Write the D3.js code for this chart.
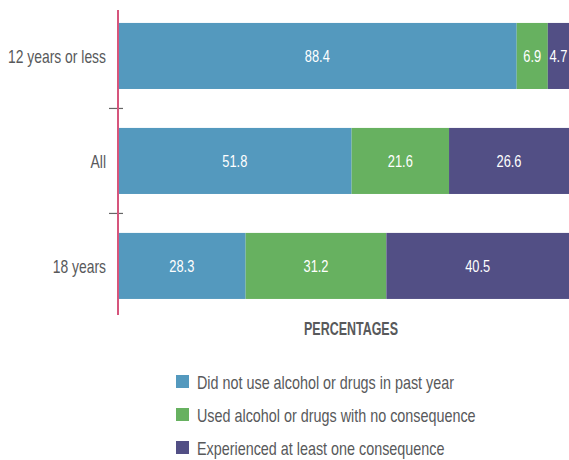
<!DOCTYPE html>
<html><head><meta charset="utf-8">
<script src="https://cdn.jsdelivr.net/npm/d3@7"></script>
<style>
html,body{margin:0;padding:0;background:#fff;}
text{font-family:"Liberation Sans",Arial,sans-serif;}
</style></head>
<body><svg id="c" width="569" height="460"></svg>
<script>
const categories = ["12 years or less", "All", "18 years"];
const seriesNames = ["Did not use alcohol or drugs in past year", "Used alcohol or drugs with no consequence", "Experienced at least one consequence"];
const notUsed = [88.4, 51.8, 28.3];
const usedNoConsequence = [6.9, 21.6, 31.2];
const consequence = [4.7, 26.6, 40.5];
const colors = ["#5499be", "#67b160", "#524f85"];
const axisTitle = "PERCENTAGES";

const svg = d3.select("#c");
const x = d3.scaleLinear().domain([0, 100]).range([118, 569]);
const y = d3.scaleBand().domain(categories).range([3, 318.9]).paddingInner(0.371).paddingOuter(0.19);

// condense a text selection horizontally so a reference string gets a target width
function condense(sel, refText, refWidth) {
  const probe = svg.append("text").attr("font-size", sel.attr("font-size")).attr("font-weight", sel.attr("font-weight") || "normal").text(refText);
  const k = refWidth / probe.node().getComputedTextLength();
  probe.remove();
  sel.each(function() {
    const w = this.getComputedTextLength();
    d3.select(this).attr("textLength", w * k).attr("lengthAdjust", "spacingAndGlyphs");
  });
}

const rows = categories.map((c, i) => ({cat: c, v0: notUsed[i], v1: usedNoConsequence[i], v2: consequence[i]}));
const layers = d3.stack().keys(["v0", "v1", "v2"])(rows);

layers.forEach((layer, li) => {
  const g = svg.append("g");
  g.selectAll("rect").data(layer).join("rect")
    .attr("x", d => x(d[0]))
    .attr("y", d => y(d.data.cat))
    .attr("width", d => x(d[1]) - x(d[0]))
    .attr("height", y.bandwidth())
    .attr("fill", colors[li]);
  g.selectAll("text").data(layer).join("text")
    .attr("class", "val")
    .attr("x", d => (x(d[0]) + x(d[1])) / 2)
    .attr("y", d => y(d.data.cat) + y.bandwidth() / 2)
    .attr("dy", "0.35em")
    .attr("text-anchor", "middle")
    .attr("fill", "#fff")
    .attr("font-size", 17)
    .text(d => (d[1] - d[0]).toFixed(1));
});
condense(svg.selectAll("text.val"), "21.6", 25);

// category labels
const catT = svg.append("g").selectAll("text").data(categories).join("text")
  .attr("x", 106)
  .attr("y", d => y(d) + y.bandwidth() / 2)
  .attr("dy", "0.35em")
  .attr("text-anchor", "end")
  .attr("fill", "#58595b")
  .attr("font-size", 19)
  .text(d => d);
condense(catT, "12 years or less", 98);

// separator ticks
const seps = categories.slice(1).map((c, i) => (y(categories[i]) + y.bandwidth() + y(c)) / 2);
svg.append("g").selectAll("line").data(seps).join("line")
  .attr("x1", 109).attr("x2", 123)
  .attr("y1", d => d).attr("y2", d => d)
  .attr("stroke", "#666").attr("stroke-width", 1.2);

// axis line
svg.append("line").attr("x1", 118).attr("x2", 118).attr("y1", 10).attr("y2", 315)
  .attr("stroke", "#d6557c").attr("stroke-width", 2);

// axis title
const tt = svg.append("text").attr("x", 351).attr("y", 329).attr("dy", "0.35em")
  .attr("text-anchor", "middle").attr("fill", "#58595b").attr("font-size", 18).attr("font-weight", "bold")
  .text(axisTitle);
condense(tt, axisTitle, 94);

// legend
const leg = svg.append("g").selectAll("g").data(seriesNames).join("g")
  .attr("transform", (d, i) => `translate(176, ${375 + i * 33})`);
leg.append("rect").attr("width", 13).attr("height", 13).attr("fill", (d, i) => colors[i]);
const legT = leg.append("text").attr("x", 21).attr("y", 7).attr("dy", "0.35em")
  .attr("fill", "#58595b").attr("font-size", 19).text(d => d);
condense(legT, seriesNames[0], 257);
</script></body></html>
